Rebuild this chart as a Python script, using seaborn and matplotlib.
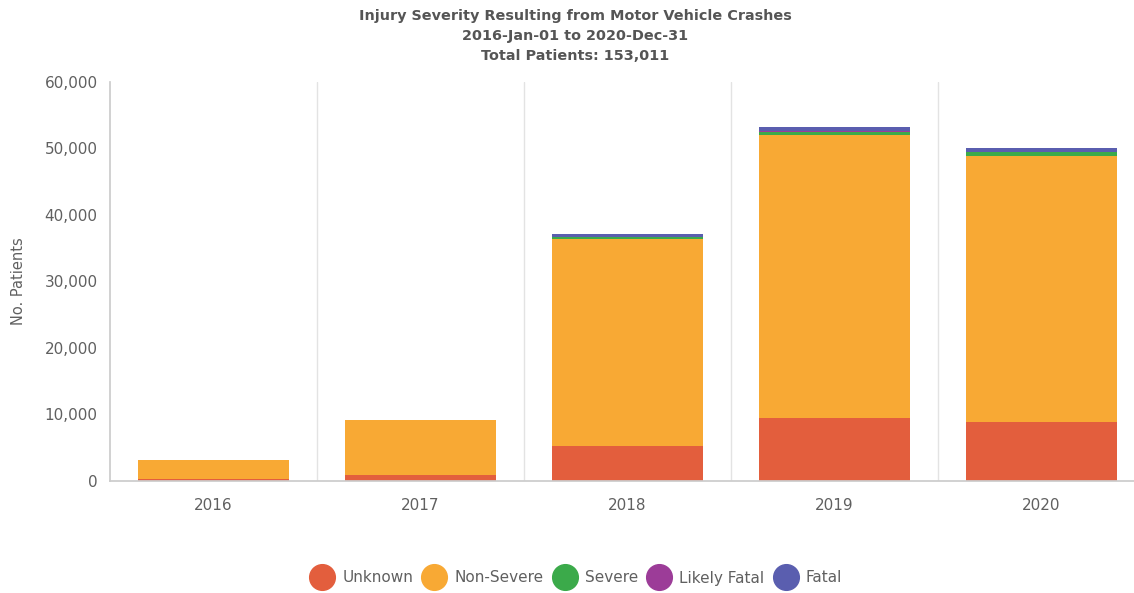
import matplotlib
matplotlib.use("Agg")
import matplotlib.pyplot as plt
import seaborn as sns
import numpy as np
import pandas as pd
from matplotlib.lines import Line2D
from matplotlib.ticker import FuncFormatter, FixedLocator

years = ["2016", "2017", "2018", "2019", "2020"]
series_names = ["Unknown", "Non-Severe", "Severe", "Likely Fatal", "Fatal"]
unknown = [350, 900, 5300, 9500, 8900]
non_severe = [2850, 8250, 31100, 42600, 40000]
severe = [0, 0, 300, 400, 500]
likely_fatal = [0, 0, 60, 80, 90]
fatal = [0, 0, 400, 600, 650]
colors = ["#E35E3D", "#F8A934", "#3BAA4A", "#9C3C98", "#5A5EAF"]
title_lines = ["Injury Severity Resulting from Motor Vehicle Crashes",
               "2016-Jan-01 to 2020-Dec-31",
               "Total Patients: 153,011"]

sns.set_theme(style="white")
plt.rcParams["font.family"] = ["DejaVu Sans"]

fig = plt.figure(figsize=(11.34, 5.93), dpi=100)
ax = fig.add_axes([110/1134, 1-481/593, (1145-110)/1134, (481-82)/593])

data = [unknown, non_severe, severe, likely_fatal, fatal]
bottom = np.zeros(len(years))
for name, vals, c in zip(series_names, data, colors):
    df = pd.DataFrame({"year": years, "value": vals})
    sns.barplot(data=df, x="year", y="value", color=c, width=0.725,
                bottom=bottom, ax=ax, saturation=1, linewidth=0)
    bottom = bottom + np.array(vals)

ax.set_xlim(-0.5, 4.5)
ax.set_ylim(0, 60000)
ax.set_yticks(np.arange(0, 60001, 10000))
ax.yaxis.set_major_formatter(FuncFormatter(lambda v, p: f"{int(v):,}"))
ax.xaxis.set_minor_locator(FixedLocator([0.5, 1.5, 2.5, 3.5]))
ax.grid(False)
ax.grid(which="minor", axis="x", color="#e3e3e3", linewidth=1)
ax.tick_params(axis="both", which="both", length=0, labelsize=11, colors="#606060")
ax.tick_params(axis="x", pad=12)
ax.tick_params(axis="y", pad=9)
for s in ["top", "right"]:
    ax.spines[s].set_visible(False)
ax.spines["left"].set_color("#cccccc")
ax.spines["bottom"].set_color("#cccccc")
ax.set_xlabel("")
ax.set_ylabel("No. Patients", fontsize=10.5, color="#606060")
ax.yaxis.set_label_coords((26-110)/1035, 0.5)

for i, line in enumerate(title_lines):
    fig.text(575/1134, 1-(16+20*i)/593, line, ha="center", va="center",
             fontsize=10.4, fontweight="bold", color="#555555")

handles = [Line2D([0], [0], marker="o", linestyle="", markersize=18.5, markerfacecolor=c, markeredgecolor=c)
           for c in colors]
fig.legend(handles, series_names, loc="center", bbox_to_anchor=(576/1134, 1-578/593), ncol=5,
           frameon=False, fontsize=11, handletextpad=0.5, columnspacing=0.6, labelcolor="#606060",
           handlelength=1.6)

fig.savefig("out.png", dpi=100)
